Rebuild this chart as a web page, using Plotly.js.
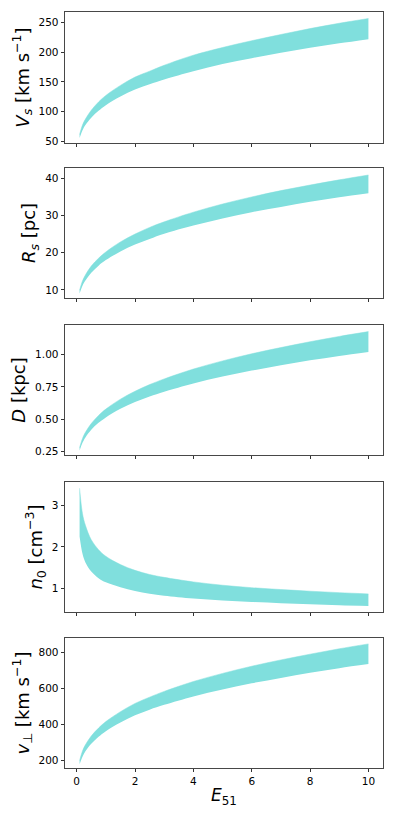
<!DOCTYPE html>
<html>
<head>
<meta charset="utf-8">
<script src="https://cdn.plot.ly/plotly-3.0.1.min.js"></script>
<style>
  body { margin: 0; background: #fff; }
  #chart { width: 395px; height: 818px; }
</style>
</head>
<body>
<div id="chart"></div>
<script>
// explosion energy in units of 1e51 erg
const energy = [0.1, 0.2, 0.3, 0.5, 0.75, 1, 1.5, 2, 2.5, 3, 4, 5, 6, 7, 8, 9, 10];

// shock velocity [km/s], band edges
const vsLow  = [55, 68, 77, 89.5, 101, 110.5, 125, 137, 146, 154, 168, 180, 190, 199, 207.5, 215, 222];
const vsHigh = [61, 77, 87, 102, 116, 127, 144, 158, 168, 178, 195, 208, 219.5, 230, 240, 249, 257];

// shock radius [pc]
const rsLow  = [9.0, 11.1, 12.5, 14.6, 16.5, 18.0, 20.3, 22.2, 23.7, 25.1, 27.3, 29.2, 30.9, 32.3, 33.7, 34.9, 36.0];
const rsHigh = [9.9, 12.4, 14.0, 16.4, 18.5, 20.2, 22.9, 25.0, 26.8, 28.3, 30.9, 33.1, 35.0, 36.7, 38.2, 39.6, 40.9];

// distance [kpc]
const dLow  = [0.260, 0.319, 0.360, 0.419, 0.473, 0.515, 0.581, 0.633, 0.676, 0.713, 0.777, 0.830, 0.876, 0.917, 0.955, 0.989, 1.020];
const dHigh = [0.282, 0.353, 0.400, 0.468, 0.530, 0.579, 0.656, 0.717, 0.768, 0.812, 0.888, 0.951, 1.006, 1.054, 1.099, 1.140, 1.177];

// ambient density [cm^-3]
const nLow  = [2.25, 1.83, 1.62, 1.40, 1.24, 1.14, 1.02, 0.93, 0.865, 0.815, 0.748, 0.700, 0.663, 0.633, 0.607, 0.585, 0.565];
const nHigh = [3.42, 2.80, 2.52, 2.17, 1.93, 1.77, 1.57, 1.43, 1.33, 1.26, 1.15, 1.07, 1.01, 0.965, 0.925, 0.89, 0.86];

// transverse velocity [km/s]
const vpLow  = [178, 220, 250, 292, 331, 362, 410, 450, 481, 508, 555, 594, 628, 658, 686, 712, 735];
const vpHigh = [198, 252, 286, 335, 379, 415, 470, 516, 551, 583, 638, 683, 723, 758, 790, 820, 847];

const bandColor = '#80dfdd';

const panels = [
    { low: vsLow, high: vsHigh, range: [46.6, 268], ticks: [50, 100, 150, 200, 250], fmt: '',
      title: '<i>V<sub>s</sub></i> [km s<sup>\u22121</sup>]', dom: [0.8267, 1] },
    { low: rsLow, high: rsHigh, range: [7.8, 42.8], ticks: [10, 20, 30, 40], fmt: '',
      title: '<i>R<sub>s</sub></i> [pc]', dom: [0.6217, 0.7937] },
    { low: dLow, high: dHigh, range: [0.225, 1.228], ticks: [0.25, 0.5, 0.75, 1.0], fmt: '.2f',
      title: '<i>D</i> [kpc]', dom: [0.414, 0.586] },
    { low: nLow, high: nHigh, range: [0.42, 3.57], ticks: [1, 2, 3], fmt: '',
      title: '<i>n</i><sub>0</sub> [cm<sup>\u22123</sup>]', dom: [0.2063, 0.3783] },
    { low: vpLow, high: vpHigh, range: [157, 880], ticks: [200, 400, 600, 800], fmt: '',
      title: '<i>v</i><sub>\u22a5</sub> [km s<sup>\u22121</sup>]', dom: [0, 0.172] }
];

const traces = [];
const layout = {
    width: 395,
    height: 818,
    margin: { l: 65, r: 12, t: 12, b: 50 },
    paper_bgcolor: '#fff',
    plot_bgcolor: '#fff',
    showlegend: false,
    font: { family: 'DejaVu Sans', size: 10, color: '#000' }
};

panels.forEach((p, i) => {
    const n = i === 0 ? '' : String(i + 1);
    traces.push({
        x: energy, y: p.low, type: 'scatter', mode: 'lines',
        line: { width: 0, color: bandColor, shape: 'spline', smoothing: 1 },
        xaxis: 'x' + n, yaxis: 'y' + n, hoverinfo: 'skip'
    });
    traces.push({
        x: energy, y: p.high, type: 'scatter', mode: 'lines', fill: 'tonexty',
        fillcolor: bandColor, line: { width: 0.5, color: bandColor, shape: 'spline', smoothing: 1 },
        xaxis: 'x' + n, yaxis: 'y' + n
    });
    const isLast = i === panels.length - 1;
    layout['xaxis' + n] = {
        domain: [0, 1], anchor: 'y' + n, range: [-0.4, 10.5],
        tickvals: [0, 2, 4, 6, 8, 10], showticklabels: isLast,
        ticks: 'outside', ticklen: 3.5, tickwidth: 0.8, tickcolor: '#000',
        showline: true, linecolor: '#333', linewidth: 0.9, mirror: true,
        showgrid: false, zeroline: false,
        tickfont: { size: 10.5 },
        title: isLast ? { text: '<i>E</i><sub>51</sub>', font: { size: 17 }, standoff: 3 } : { text: '' }
    };
    layout['yaxis' + n] = {
        domain: p.dom, anchor: 'x' + n, range: p.range,
        tickvals: p.ticks, tickformat: p.fmt,
        ticks: 'outside', ticklen: 3.5, tickwidth: 0.8, tickcolor: '#000',
        showline: true, linecolor: '#333', linewidth: 0.9, mirror: true,
        showgrid: false, zeroline: false,
        tickfont: { size: 10.5 },
        title: { text: p.title, font: { size: 18 }, standoff: 4 }
    };
});

Plotly.newPlot('chart', traces, layout, { displayModeBar: false, staticPlot: true });
</script>
</body>
</html>
